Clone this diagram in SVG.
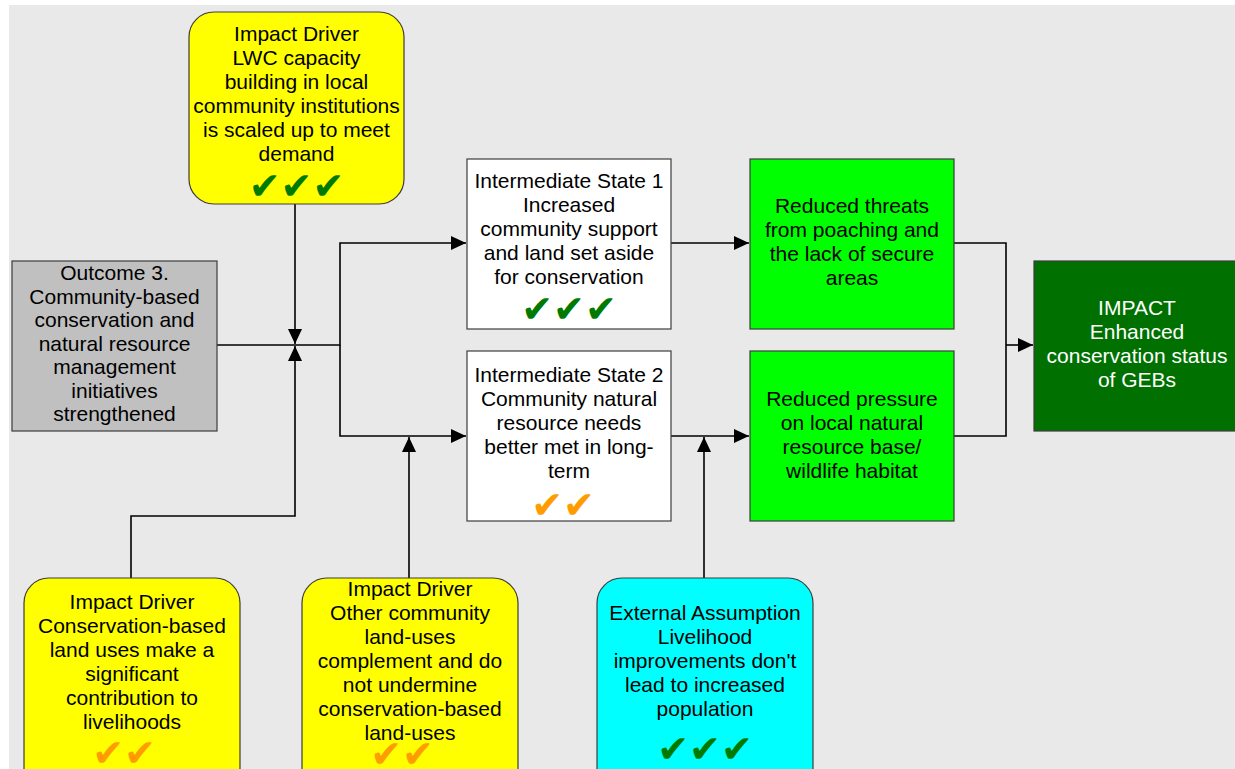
<svg xmlns="http://www.w3.org/2000/svg" width="1235" height="769" viewBox="0 0 1235 769">
  <defs>
    <marker id="arrow" markerUnits="userSpaceOnUse" markerWidth="16" markerHeight="14" refX="15" refY="7" orient="auto">
      <path d="M0,0 L15,7 L0,14 z" fill="#000"/>
    </marker>
    <style>
      .box { stroke: #3c3c3c; stroke-width: 1.2; }
      .lbl { font-family: "Liberation Sans", Arial, sans-serif; font-size: 21px; fill: #000; text-anchor: middle; }
      .lbl.white { fill: #fff; }
      .chk { font-family: "DejaVu Sans", sans-serif; font-size: 38px; text-anchor: middle; }
      .chk.green { fill: #007a00; }
      .chk.orange { fill: #ff9c00; }
      .wire { fill: none; stroke: #000; stroke-width: 1.6; }
    </style>
  </defs>

  <!-- page background -->
  <rect x="9" y="5" width="1226" height="764" fill="#e9e9e9"/>

  <!-- connectors -->
  <g id="connectors">
    <path class="wire" d="M295,204 V344" marker-end="url(#arrow)"/>
    <path class="wire" d="M131,578 V516 H295 V346" marker-end="url(#arrow)"/>
    <path class="wire" d="M217,345 H340 V243 H466" marker-end="url(#arrow)"/>
    <path class="wire" d="M340,345 V436 H466" marker-end="url(#arrow)"/>
    <path class="wire" d="M409,578 V437" marker-end="url(#arrow)"/>
    <path class="wire" d="M671,243 H749" marker-end="url(#arrow)"/>
    <path class="wire" d="M671,436 H749" marker-end="url(#arrow)"/>
    <path class="wire" d="M704,578 V437" marker-end="url(#arrow)"/>
    <path class="wire" d="M954,243 H1006 V436 H954"/>
    <path class="wire" d="M1006,345 H1033" marker-end="url(#arrow)"/>
  </g>

  <!-- impact driver: capacity building -->
  <g id="driver-capacity">
    <rect class="box" x="189" y="12" width="215" height="192" rx="25" fill="#ffff00"/>
    <text class="lbl" x="296.5" y="41">Impact Driver</text>
    <text class="lbl" x="296.5" y="65">LWC capacity</text>
    <text class="lbl" x="296.5" y="89">building in local</text>
    <text class="lbl" x="296.5" y="113">community institutions</text>
    <text class="lbl" x="296.5" y="137">is scaled up to meet</text>
    <text class="lbl" x="296.5" y="161">demand</text>
    <text class="chk green" x="296.5" y="199">✔✔✔</text>
  </g>

  <!-- outcome 3 -->
  <g id="outcome-3">
    <rect class="box" x="12" y="261" width="205" height="170" fill="#c0c0c0"/>
    <text class="lbl" x="114.5" y="280">Outcome 3.</text>
    <text class="lbl" x="114.5" y="303.5">Community-based</text>
    <text class="lbl" x="114.5" y="327">conservation and</text>
    <text class="lbl" x="114.5" y="350.5">natural resource</text>
    <text class="lbl" x="114.5" y="374">management</text>
    <text class="lbl" x="114.5" y="397.5">initiatives</text>
    <text class="lbl" x="114.5" y="421">strengthened</text>
  </g>

  <!-- intermediate state 1 -->
  <g id="state-1">
    <rect class="box" x="467" y="159" width="204" height="170" fill="#ffffff"/>
    <text class="lbl" x="569" y="188">Intermediate State 1</text>
    <text class="lbl" x="569" y="212">Increased</text>
    <text class="lbl" x="569" y="236">community support</text>
    <text class="lbl" x="569" y="260">and land set aside</text>
    <text class="lbl" x="569" y="284">for conservation</text>
    <text class="chk green" x="569" y="322">✔✔✔</text>
  </g>

  <!-- intermediate state 2 -->
  <g id="state-2">
    <rect class="box" x="467" y="351" width="204" height="170" fill="#ffffff"/>
    <text class="lbl" x="569" y="382">Intermediate State 2</text>
    <text class="lbl" x="569" y="406">Community natural</text>
    <text class="lbl" x="569" y="430">resource needs</text>
    <text class="lbl" x="569" y="454">better met in long-</text>
    <text class="lbl" x="569" y="478">term</text>
    <text class="chk orange" x="563" y="518">✔✔</text>
  </g>

  <!-- reduced threats -->
  <g id="reduced-threats">
    <rect class="box" x="750" y="159" width="204" height="170" fill="#00ff00"/>
    <text class="lbl" x="852" y="213">Reduced threats</text>
    <text class="lbl" x="852" y="237">from poaching and</text>
    <text class="lbl" x="852" y="261">the lack of secure</text>
    <text class="lbl" x="852" y="285">areas</text>
  </g>

  <!-- reduced pressure -->
  <g id="reduced-pressure">
    <rect class="box" x="750" y="351" width="204" height="170" fill="#00ff00"/>
    <text class="lbl" x="852" y="406">Reduced pressure</text>
    <text class="lbl" x="852" y="430">on local natural</text>
    <text class="lbl" x="852" y="454">resource base/</text>
    <text class="lbl" x="852" y="478">wildlife habitat</text>
  </g>

  <!-- impact -->
  <g id="impact">
    <rect class="box" x="1034" y="261" width="210" height="170" fill="#007100"/>
    <text class="lbl white" x="1137" y="315">IMPACT</text>
    <text class="lbl white" x="1137" y="339">Enhanced</text>
    <text class="lbl white" x="1137" y="363">conservation status</text>
    <text class="lbl white" x="1137" y="387">of GEBs</text>
  </g>

  <!-- impact driver: conservation-based land uses -->
  <g id="driver-livelihoods">
    <rect class="box" x="24" y="578" width="216" height="215" rx="25" fill="#ffff00"/>
    <text class="lbl" x="132" y="609">Impact Driver</text>
    <text class="lbl" x="132" y="633">Conservation-based</text>
    <text class="lbl" x="132" y="657">land uses make a</text>
    <text class="lbl" x="132" y="681">significant</text>
    <text class="lbl" x="132" y="705">contribution to</text>
    <text class="lbl" x="132" y="729">livelihoods</text>
    <text class="chk orange" x="124" y="766">✔✔</text>
  </g>

  <!-- impact driver: other land uses -->
  <g id="driver-land-uses">
    <rect class="box" x="302" y="578" width="216" height="215" rx="25" fill="#ffff00"/>
    <text class="lbl" x="410" y="596">Impact Driver</text>
    <text class="lbl" x="410" y="620">Other community</text>
    <text class="lbl" x="410" y="644">land-uses</text>
    <text class="lbl" x="410" y="668">complement and do</text>
    <text class="lbl" x="410" y="692">not undermine</text>
    <text class="lbl" x="410" y="716">conservation-based</text>
    <text class="lbl" x="410" y="740">land-uses</text>
    <text class="chk orange" x="402" y="767">✔✔</text>
  </g>

  <!-- external assumption -->
  <g id="assumption-population">
    <rect class="box" x="597" y="578" width="216" height="215" rx="25" fill="#00ffff"/>
    <text class="lbl" x="705" y="620">External Assumption</text>
    <text class="lbl" x="705" y="644">Livelihood</text>
    <text class="lbl" x="705" y="668">improvements don't</text>
    <text class="lbl" x="705" y="692">lead to increased</text>
    <text class="lbl" x="705" y="716">population</text>
    <text class="chk green" x="705" y="762">✔✔✔</text>
  </g>
</svg>
